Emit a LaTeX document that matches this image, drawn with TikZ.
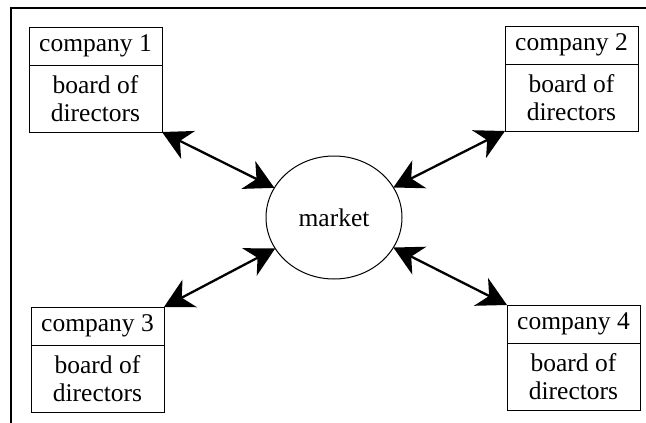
\documentclass[tikz,border=0pt]{standalone}
\usepackage{fontspec}
\setmainfont{Liberation Serif}
\usetikzlibrary{arrows.meta,shapes.geometric}
\begin{document}
\begin{tikzpicture}[x=1pt,y=-1pt,
  every node/.style={font=\fontsize{25.5}{28}\selectfont, inner sep=0pt, outer sep=0pt},
  headcell/.style={draw, line width=1pt, minimum width=133pt, minimum height=38pt, anchor=north west},
  bodycell/.style={draw, line width=1pt, minimum width=133pt, minimum height=67pt, anchor=north, align=center},
  link/.style={line width=2.3pt, {Stealth[length=29pt,width=31pt,inset=9pt]}-{Stealth[length=29pt,width=31pt,inset=9pt]}}
]
\useasboundingbox (0,0) rectangle (646,423);
% frame (only left and top edges visible)
\draw[line width=1.6pt] (11,430) -- (11,8) -- (650,8);
% market
\node[draw, ellipse, line width=1pt, minimum width=136pt, minimum height=123pt] (m) at (334,217.5) {market};
% company 1
\node[headcell] (c1) at (29,27) {company 1};
\node[bodycell] (b1) at (c1.south) {board of\\directors};
% company 2
\node[headcell] (c2) at (505,26) {company 2};
\node[bodycell] (b2) at (c2.south) {board of\\directors};
% company 3
\node[headcell] (c3) at (31,307) {company 3};
\node[bodycell] (b3) at (c3.south) {board of\\directors};
% company 4
\node[headcell] (c4) at (507,305) {company 4};
\node[bodycell] (b4) at (c4.south) {board of\\directors};
% links
\draw[link] (b1.south east) -- (m);
\draw[link] (b2.south west) -- (m);
\draw[link] (c3.north east) -- (m);
\draw[link] (c4.north west) -- (m);
\end{tikzpicture}
\end{document}
